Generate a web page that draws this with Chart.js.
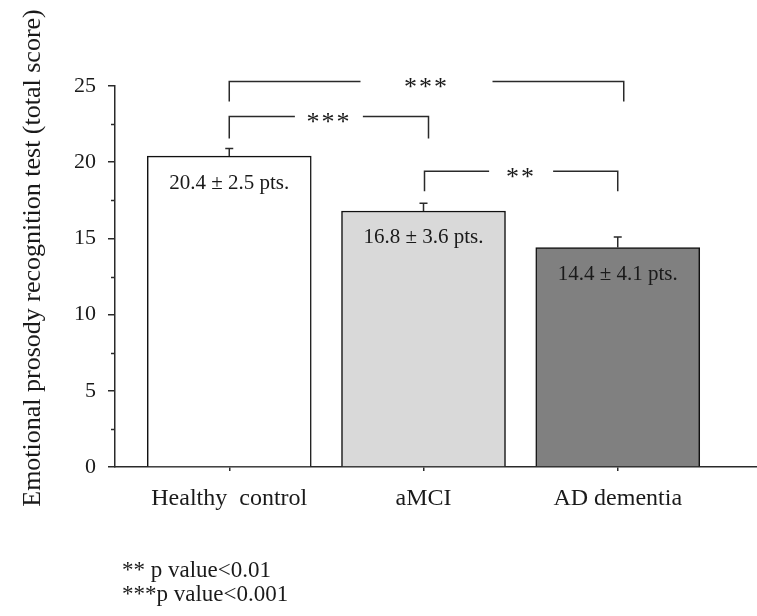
<!DOCTYPE html>
<html><head><meta charset="utf-8">
<script src="https://cdn.jsdelivr.net/npm/chart.js@4.4.0/dist/chart.umd.min.js"></script>
<style>html,body{margin:0;padding:0;background:#fff;overflow:hidden}#wrap{width:757px;height:616px;position:relative}</style>
</head><body><div id="wrap"><canvas id="c" width="757" height="616"></canvas></div>
<script>
// ---- data ----
const categories = ['Healthy  control', 'aMCI', 'AD dementia'];
const meanScores = [20.4, 16.8, 14.4];
const errorBars = [0.5, 0.5, 0.7];
const barLabels = ['20.4 \u00b1 2.5 pts.', '16.8 \u00b1 3.6 pts.', '14.4 \u00b1 4.1 pts.'];
const yTicks = [0, 5, 10, 15, 20, 25];
const compareFrom = [0, 0, 1];
const compareTo = [2, 1, 2];
const compareLabels = ['***', '***', '**'];
const notes = ['** p value<0.01', '***p value<0.001'];
const yTitle = 'Emotional prosody recognition test (total score)';

// ---- styles ----
const FONT = "'Liberation Serif', 'Times New Roman', serif";
const TXT = '#1a1a1a';
const LINE = '#2a2a2a';
const barColors = ['#ffffff', '#d9d9d9', '#808080'];
const bracketLevel = [25.3, 23.0, 19.4];   // y value of bracket bars
const bracketDrop = [20, 22, 20];          // px
const bracketGap = [66, 34, 32];           // half width of text gap, px
const bracketEndShift = [[0, 6], [0, 5], [1, 0]];

const overlay = {
  id: 'overlay',
  afterDatasetsDraw(chart) {
    const {ctx, scales: {x, y}} = chart;
    const meta = chart.getDatasetMeta(0);
    ctx.save();
    ctx.strokeStyle = LINE;
    ctx.fillStyle = TXT;
    ctx.lineWidth = 1.5;
    // minor y ticks
    for (let v = 2.5; v < 25; v += 5) {
      const py = Math.round(y.getPixelForValue(v)) + 0.5;
      ctx.beginPath(); ctx.moveTo(x.left - 4, py); ctx.lineTo(x.left, py); ctx.stroke();
    }
    // error bars + labels
    meta.data.forEach((bar, i) => {
      const top = y.getPixelForValue(meanScores[i]);
      const et = y.getPixelForValue(meanScores[i] + errorBars[i]);
      ctx.beginPath();
      ctx.moveTo(bar.x, top); ctx.lineTo(bar.x, et);
      ctx.moveTo(bar.x - 4, et); ctx.lineTo(bar.x + 4, et);
      ctx.stroke();
      ctx.font = '21px ' + FONT;
      ctx.textAlign = 'center';
      ctx.textBaseline = 'middle';
      ctx.fillText(barLabels[i], bar.x, top + 27);
    });
    // significance brackets
    compareLabels.forEach((lab, k) => {
      const a = meta.data[compareFrom[k]].x + bracketEndShift[k][0];
      const b = meta.data[compareTo[k]].x + bracketEndShift[k][1];
      const ly = y.getPixelForValue(bracketLevel[k]);
      const mid = (a + b) / 2;
      ctx.beginPath();
      ctx.moveTo(a, ly + bracketDrop[k]); ctx.lineTo(a, ly); ctx.lineTo(mid - bracketGap[k], ly);
      ctx.moveTo(mid + bracketGap[k], ly); ctx.lineTo(b, ly); ctx.lineTo(b, ly + bracketDrop[k]);
      ctx.stroke();
      ctx.font = '26px ' + FONT;
      ctx.letterSpacing = '2px';
      ctx.textAlign = 'center';
      ctx.textBaseline = 'alphabetic';
      ctx.fillText(lab, mid, ly + 14);
      ctx.letterSpacing = '0px';
    });
    // y title
    ctx.save();
    ctx.translate(33, 258);
    ctx.rotate(-Math.PI / 2);
    ctx.font = '26px ' + FONT;
    ctx.textAlign = 'center';
    ctx.textBaseline = 'middle';
    ctx.fillText(yTitle, 0, 0);
    ctx.restore();
    // notes
    ctx.font = '23px ' + FONT;
    ctx.textAlign = 'left';
    ctx.textBaseline = 'alphabetic';
    notes.forEach((n, i) => ctx.fillText(n, 122, 577 + i * 24));
    ctx.restore();
  }
};

new Chart(document.getElementById('c'), {
  type: 'bar',
  data: {
    datasets: [{
      data: categories.map((c, i) => ({x: i + 1, y: meanScores[i]})),
      backgroundColor: barColors,
      borderColor: '#111',
      borderWidth: 1.5,
      borderSkipped: 'bottom',
      barThickness: 164
    }]
  },
  options: {
    responsive: false,
    animation: false,
    devicePixelRatio: 1,
    layout: {padding: {top: 86, right: 0, bottom: 0, left: 0}},
    plugins: {legend: {display: false}, tooltip: {enabled: false}},
    scales: {
      x: {
        type: 'linear', min: 0.4118, max: 3.7169, offset: false,
        afterBuildTicks: s => { s.ticks = categories.map((c, i) => ({value: i + 1})); },
        ticks: {callback: v => categories[v - 1] ?? '', font: {family: FONT, size: 24}, color: TXT, padding: 13, maxRotation: 0, autoSkip: false},
        grid: {offset: false, drawOnChartArea: false, drawTicks: true, tickLength: 4, color: LINE, lineWidth: 1.5},
        border: {color: LINE, width: 1.5},
        afterFit: s => { s.height = 149; }
      },
      y: {
        min: 0, max: 25,
        afterBuildTicks: s => { s.ticks = yTicks.map(v => ({value: v})); },
        ticks: {font: {family: FONT, size: 22}, color: TXT, padding: 12},
        grid: {drawOnChartArea: false, drawTicks: true, tickLength: 7, color: LINE, lineWidth: 1.5},
        border: {color: LINE, width: 1.5},
        afterFit: s => { s.width = 115; }
      }
    }
  },
  plugins: [overlay]
});
</script>
</body></html>
